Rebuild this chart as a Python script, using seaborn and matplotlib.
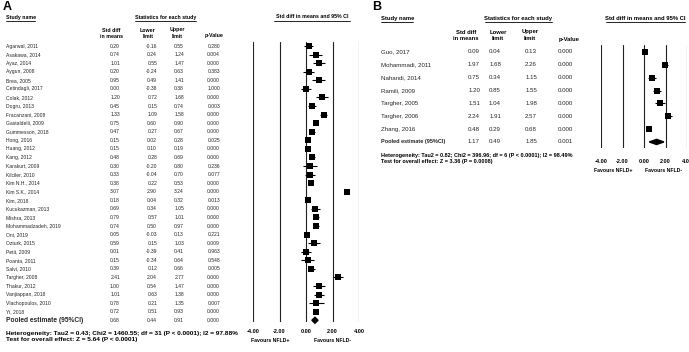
import numpy as np
import pandas as pd
import matplotlib
matplotlib.use('Agg')
import matplotlib.pyplot as plt
import seaborn as sns
from matplotlib.transforms import blended_transform_factory
from matplotlib.lines import Line2D

# ---------------- data ----------------
studies_a = ["Agarwal, 2011", "Asakawa, 2014", "Ayaz, 2014", "Aygun, 2008", "Brea, 2005",
             "Cetindagli, 2017", "Colak, 2012", "Dogru, 2013", "Fracanzani, 2008", "Gastaldelli, 2009",
             "Gummesson, 2018", "Hong, 2016", "Huang, 2012", "Kang, 2012", "Karakurt, 2009",
             "Kilciler, 2010", "Kim N.H., 2014", "Kim S.K., 2014", "Kim, 2018", "Kucukazman, 2013",
             "Mishra, 2013", "Mohammadzadeh, 2019", "Oni, 2019", "Ozturk, 2015", "Petit, 2009",
             "Poanta, 2011", "Salvi, 2010", "Targher, 2008", "Thakur, 2012", "Vanjiappan, 2018",
             "Vlachopoulos, 2010", "Yi, 2018"]
std_a = [0.20, 0.74, 1.01, 0.20, 0.95, 0.00, 1.20, 0.45, 1.33, 0.75, 0.47, 0.15, 0.15, 0.48, 0.30,
         0.33, 0.38, 3.07, 0.18, 0.69, 0.79, 0.74, 0.05, 0.59, 0.01, 0.15, 0.39, 2.41, 1.00, 1.01,
         0.78, 0.72]
lower_a = [-0.16, 0.24, 0.55, -0.24, 0.49, -0.38, 0.72, 0.15, 1.09, 0.60, 0.27, 0.02, 0.10, 0.28, -0.20,
           -0.04, 0.22, 2.90, 0.04, 0.34, 0.57, 0.50, -0.03, 0.15, -0.39, -0.34, 0.12, 2.04, 0.54, 0.63,
           0.21, 0.51]
upper_a = [0.55, 1.24, 1.47, 0.63, 1.41, 0.38, 1.68, 0.74, 1.58, 0.90, 0.67, 0.28, 0.19, 0.69, 0.80,
           0.70, 0.53, 3.24, 0.32, 1.05, 1.01, 0.97, 0.13, 1.03, 0.41, 0.64, 0.66, 2.77, 1.47, 1.38,
           1.35, 0.93]
p_a = ["0.280", "0.004", "0.000", "0.383", "0.000", "1.000", "0.000", "0.003", "0.000", "0.000",
       "0.000", "0.025", "0.000", "0.000", "0.236", "0.077", "0.000", "0.000", "0.013", "0.000",
       "0.000", "0.000", "0.221", "0.009", "0.963", "0.548", "0.005", "0.000", "0.000", "0.000",
       "0.007", "0.000"]
pooled_a = [0.68, 0.44, 0.91]
pooled_p_a = "0.000"
het_a = ["Heterogeneity: Tau2 = 0.43; Chi2 = 1460.55; df = 31 (P < 0.0001); I2 = 97.88%",
         "Test for overall effect: Z = 5.64 (P < 0.0001)"]

studies_b = ["Guo, 2017", "Mohammadi, 2011", "Nahandi, 2014", "Ramili, 2009", "Targher, 2005",
             "Targher, 2006", "Zhang, 2016"]
std_b = [0.09, 1.97, 0.75, 1.20, 1.51, 2.24, 0.48]
lower_b = [0.04, 1.68, 0.34, 0.85, 1.04, 1.91, 0.29]
upper_b = [0.13, 2.26, 1.15, 1.55, 1.98, 2.57, 0.68]
p_b = ["0.000"] * 7
pooled_b = [1.17, 0.49, 1.85]
pooled_p_b = "0.001"
het_b = ["Heterogeneity: Tau2 = 0.82; Chi2 = 396.96; df = 6 (P < 0.0001); I2 = 98.49%",
         "Test for overall effect: Z = 3.36 (P = 0.0008)"]

tick_vals = [-4, -2, 0, 2, 4]
favour_labels = ["Favours NFLD+", "Favours NFLD-"]

# ---------------- figure ----------------
sns.set_theme(style='white')
plt.rcParams['font.family'] = ['Liberation Sans', 'DejaVu Sans']

W, H = 689, 352
fig = plt.figure(figsize=(W / 100, H / 100), dpi=100)


def fx(x):
    return x / W


def fy(y):
    return 1 - y / H


def ftext(x, y, s, **kw):
    fig.text(fx(x), fy(y), s, va='center', color='black', **kw)


def uline(x0, x1, y):
    fig.add_artist(Line2D([fx(x0), fx(x1)], [fy(y), fy(y)], transform=fig.transFigure,
                          color='black', lw=0.6))


def panel(cfg, studies, std, lower, upper, pv, pooled, pooled_p, het):
    ftext(cfg['lab'][0], cfg['lab'][1], cfg['letter'], fontsize=9, fontweight='bold', ha='left')
    # headers
    hs = cfg['hfs']
    ftext(cfg['study_x'], cfg['hy'], "Study name", fontsize=hs, fontweight='bold', ha='left')
    uline(*cfg['ul_study'], cfg['hy'] + cfg['uld'])
    ftext(cfg['stats_c'], cfg['hy'], "Statistics for each study", fontsize=hs, fontweight='bold', ha='center')
    uline(*cfg['ul_stats'], cfg['hy'] + cfg['uld'])
    ftext(cfg['ci_c'], cfg['hy'], "Std diff in means and 95% CI", fontsize=hs, fontweight='bold', ha='center')
    uline(*cfg['ul_ci'], cfg['hy'] + cfg['uld'])
    hc = cfg['hcent']
    y1, y2 = cfg['sub_y']
    for xc, a, b in zip(hc[:3], ["Std diff", "Lower", "Upper"], ["in means", "limit", "limit"]):
        ftext(xc, y1, a, fontsize=hs, fontweight='bold', ha='center')
        ftext(xc, y2, b, fontsize=hs, fontweight='bold', ha='center')
    ftext(hc[3], y2, "p-Value", fontsize=hs, fontweight='bold', ha='center')

    # forest axes
    x0, y0, x1, y1b = cfg['axpx']
    ax = fig.add_axes([fx(x0), fy(y1b), (x1 - x0) / W, (y1b - y0) / H])
    n = len(studies)
    df = pd.DataFrame({'study': studies, 'std': std, 'lower': lower, 'upper': upper, 'p': pv,
                       'row': np.arange(n)})
    ax.set_xlim(-4, 4)
    ax.set_ylim(*cfg['ylim'])
    for v in tick_vals:
        ax.axvline(v, color='#222222', lw=0.8, zorder=1)
    ax.hlines(df['row'], df['lower'], df['upper'], color='black', lw=0.8, zorder=2, clip_on=False)
    sns.scatterplot(data=df, x='std', y='row', marker='s', color='black', s=cfg['ms'],
                    linewidth=0, ax=ax, legend=False, zorder=3, clip_on=False)
    est, lo, hi = pooled
    h = cfg['dh']
    ax.fill([lo, est, hi, est], [n, n - h, n, n + h], color='black', zorder=3, clip_on=False)
    ax.set_xticks(tick_vals)
    ax.set_xticklabels([f"{v:.2f}" for v in tick_vals], fontsize=cfg['tfs'], fontweight='bold')
    ax.tick_params(axis='x', length=0, pad=cfg['tpad'], colors='black')
    ax.set_yticks([])
    ax.set_xlabel('')
    ax.set_ylabel('')
    for s in ax.spines.values():
        s.set_visible(False)
    ax.patch.set_alpha(0)

    tr = blended_transform_factory(fig.transFigure, ax.transData)
    cr = cfg['cright']
    rfs = cfg['rfs']
    for i, r in df.iterrows():
        ax.text(fx(cfg['study_x']), r['row'], r['study'], transform=tr, fontsize=rfs, ha='left', va='center')
        ax.text(fx(cr[0]), r['row'], f"{r['std']:.2f}", transform=tr, fontsize=rfs, ha='right', va='center')
        ax.text(fx(cr[1]), r['row'], f"{r['lower']:.2f}", transform=tr, fontsize=rfs, ha='right', va='center')
        ax.text(fx(cr[2]), r['row'], f"{r['upper']:.2f}", transform=tr, fontsize=rfs, ha='right', va='center')
        ax.text(fx(cr[3]), r['row'], r['p'], transform=tr, fontsize=rfs, ha='right', va='center')
    ax.text(fx(cfg['study_x']), n, "Pooled estimate (95%CI)", transform=tr, fontsize=cfg['pfs'],
            fontweight='bold', ha='left', va='center')
    for xr, val in zip(cr[:3], pooled):
        ax.text(fx(xr), n, f"{val:.2f}", transform=tr, fontsize=rfs, ha='right', va='center')
    ax.text(fx(cr[3]), n, pooled_p, transform=tr, fontsize=rfs, ha='right', va='center')

    for (yy, s) in zip(cfg['het_y'], het):
        ftext(cfg['study_x'], yy, s, fontsize=cfg['hetfs'], fontweight='bold', ha='left')
    for xc, s in zip(cfg['fav_x'], favour_labels):
        ftext(xc, cfg['fav_y'], s, fontsize=cfg['tfs'] - 0.3, fontweight='bold', ha='center')


cfg_a = dict(letter='A', lab=(3, 7), study_x=6, hy=17, uld=3.5, hfs=3.8,
             ul_study=(6, 35), ul_stats=(135, 196), ul_ci=(274, 350),
             stats_c=165.5, ci_c=312, hcent=[111, 148, 177, 214], sub_y=(30, 36),
             axpx=(253, 42, 359, 322), ylim=(32.2, -0.467), ms=16, dh=0.35,
             tfs=4.0, tpad=5, cright=[120, 157, 184, 220], rfs=3.6, pfs=4.8,
             het_y=(333, 340), hetfs=4.65, fav_x=(270, 333), fav_y=340)
cfg_b = dict(letter='B', lab=(372, 7), study_x=381, hy=18.5, uld=3.5, hfs=4.2,
             ul_study=(381, 413), ul_stats=(485, 552), ul_ci=(606, 685),
             stats_c=518.5, ci_c=645.5, hcent=[466, 498, 530, 569], sub_y=(32, 39),
             axpx=(601, 45, 687, 148), ylim=(7.47, -0.544), ms=18, dh=0.2,
             tfs=4.0, tpad=8, cright=[480, 501, 537, 573], rfs=4.4, pfs=4.0,
             het_y=(156, 161), hetfs=3.95, fav_x=(613, 664), fav_y=171)

panel(cfg_a, studies_a, std_a, lower_a, upper_a, p_a, pooled_a, pooled_p_a, het_a)
panel(cfg_b, studies_b, std_b, lower_b, upper_b, p_b, pooled_b, pooled_p_b, het_b)

fig.savefig('out.png', dpi=100, facecolor='white')
